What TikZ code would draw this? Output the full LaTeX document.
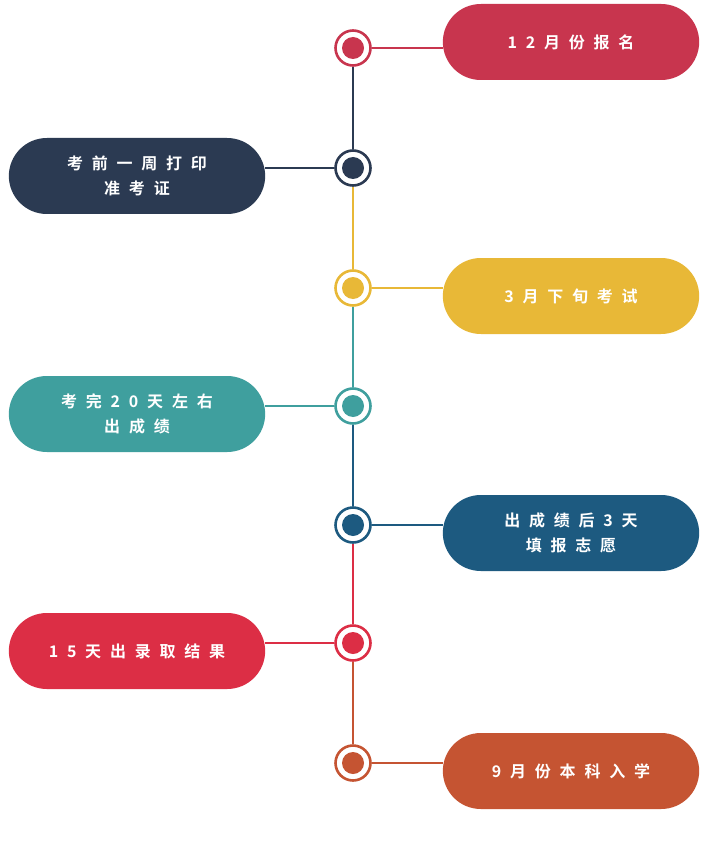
\documentclass[tikz,border=0pt]{standalone}
\usepackage{fontspec}
\newfontfamily\cjk[LetterSpace=55]{Noto Sans CJK SC Bold}
\definecolor{cA}{HTML}{C8354E}
\definecolor{cB}{HTML}{2B3A52}
\definecolor{cC}{HTML}{E8B837}
\definecolor{cD}{HTML}{3F9F9E}
\definecolor{cE}{HTML}{1D5A80}
\definecolor{cF}{HTML}{DC2E45}
\definecolor{cG}{HTML}{C55432}
\tikzset{
  pill/.style={rounded rectangle, fill=#1, minimum width=263pt, minimum height=76pt,
    text=white, align=center, font=\cjk\fontsize{16}{25}\selectfont},
  ring/.style={circle, draw=#1, line width=2.6pt, fill=white, minimum size=35pt, inner sep=0pt,
    path picture={\fill[#1] (path picture bounding box.center) circle (11pt);}},
  link/.style={draw=#1, line width=2.6pt}
}
\usetikzlibrary{shapes.misc}
\begin{document}
\begin{tikzpicture}[x=1pt,y=-1pt]
\useasboundingbox (0,0) rectangle (723,850);
% timeline nodes
\node[ring=cA] (r1) at (353,48) {};
\node[ring=cB] (r2) at (353,168) {};
\node[ring=cC] (r3) at (353,288) {};
\node[ring=cD] (r4) at (353,406) {};
\node[ring=cE] (r5) at (353,525) {};
\node[ring=cF] (r6) at (353,643) {};
\node[ring=cG] (r7) at (353,763) {};
% labels
\node[pill=cA] (p1) at (571,42) {12月份报名};
\node[pill=cB] (p2) at (137,176) {考前一周打印\\准考证};
\node[pill=cC] (p3) at (571,296) {3月下旬考试};
\node[pill=cD] (p4) at (137,414) {考完20天左右\\出成绩};
\node[pill=cE] (p5) at (571,533) {出成绩后3天\\填报志愿};
\node[pill=cF] (p6) at (137,651) {15天出录取结果};
\node[pill=cG] (p7) at (571,771) {9月份本科入学};
% connectors
\draw[link=cB] (r1) -- (r2);
\draw[link=cC] (r2) -- (r3);
\draw[link=cD] (r3) -- (r4);
\draw[link=cE] (r4) -- (r5);
\draw[link=cF] (r5) -- (r6);
\draw[link=cG] (r6) -- (r7);
\draw[link=cA] (r1) -- (r1 -| p1.west);
\draw[link=cB] (r2) -- (r2 -| p2.east);
\draw[link=cC] (r3) -- (r3 -| p3.west);
\draw[link=cD] (r4) -- (r4 -| p4.east);
\draw[link=cE] (r5) -- (r5 -| p5.west);
\draw[link=cF] (r6) -- (r6 -| p6.east);
\draw[link=cG] (r7) -- (r7 -| p7.west);
\end{tikzpicture}
\end{document}
